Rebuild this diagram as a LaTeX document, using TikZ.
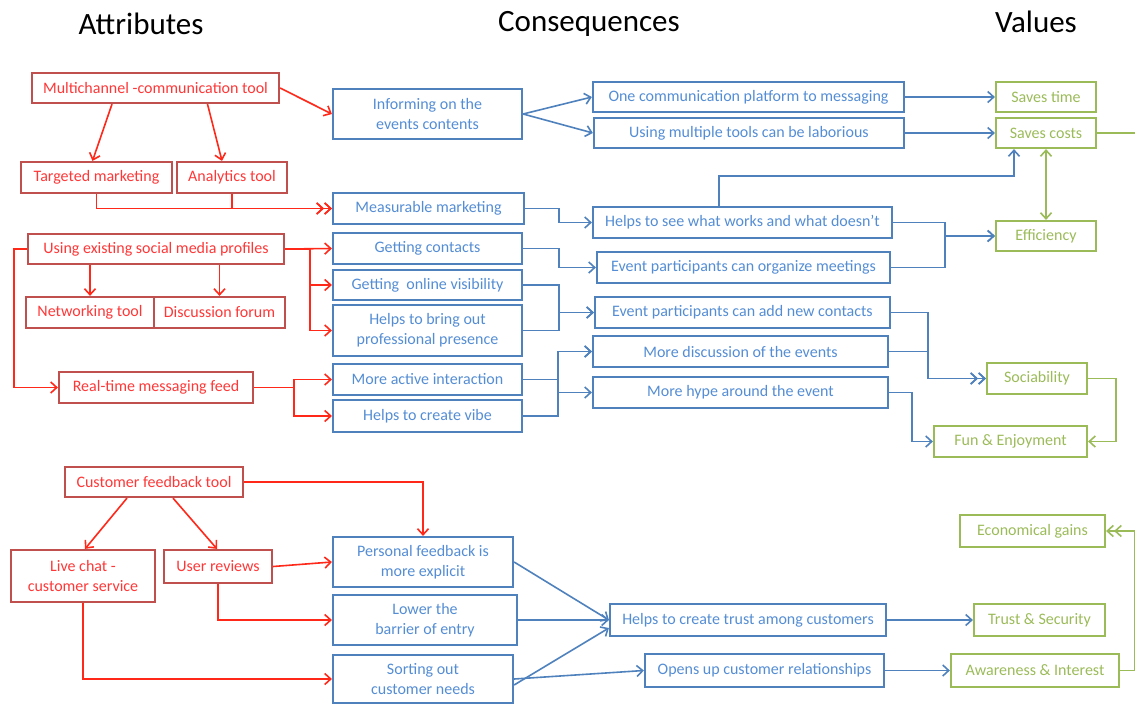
\documentclass[tikz,border=0pt]{standalone}
\usepackage{fontspec}
\setmainfont{Carlito}
\usepackage{xcolor}
\usetikzlibrary{arrows.meta,positioning}

\definecolor{attrbox}{RGB}{192,80,77}
\definecolor{attrtext}{RGB}{255,55,55}
\definecolor{attrline}{RGB}{255,40,25}
\definecolor{consbox}{RGB}{79,129,189}
\definecolor{constext}{RGB}{84,141,212}
\definecolor{valbox}{RGB}{155,187,89}

\begin{document}
\begin{tikzpicture}[x=1pt, y=-1pt, >={Straight Barb[length=6pt,width=11pt]},
		box/.style={draw, line width=2.2pt, inner sep=0pt, align=center, font=\fontsize{16}{20}\selectfont},
		wh/.style 2 args={minimum width=#1pt, minimum height=#2pt},
		attr/.style={box, draw=attrbox, text=attrtext},
		cons/.style={box, draw=consbox, text=constext},
		val/.style={box, draw=valbox, text=valbox},
		redway/.style={draw=attrline, line width=1.6pt},
		blueway/.style={draw=consbox, line width=1.6pt},
		greenway/.style={draw=valbox, line width=1.6pt},
		head/.style={font=\fontsize{31}{36}\selectfont}]
		\useasboundingbox (0,0) rectangle (1135,704);

		\node[head] (t1) at (141,24) {Attributes};
		\node[head] (t2) at (589,24) {Consequences};
		\node[head] (t3) at (1036,22) {Values};

		\node[attr, wh={247}{30}] (a1) at (155.5,88) {Multichannel -communication tool};
		\node[attr, wh={151}{31}] (a2) at (96.5,177.5) {Targeted marketing};
		\node[attr, wh={110}{31}] (a3) at (232,177.5) {Analytics tool};
		\node[attr, wh={256}{30}] (a4) at (156,249) {Using existing social media profiles};
		\node[attr, wh={128}{31}] (a5) at (90,312.5) {Networking tool};
		\node[attr, wh={131}{31}] (a6) at (219.5,312.5) {Discussion forum};
		\node[attr, wh={194}{31}] (a7) at (156,387.5) {Real-time messaging feed};
		\node[attr, wh={178}{30}] (a8) at (154,482) {Customer feedback tool};
		\node[attr, wh={144}{52}] (a9) at (83,576) {Live chat -\\customer service};
		\node[attr, wh={108}{33}] (a10) at (218,566.5) {User reviews};

		\node[cons, wh={189}{50}] (c1) at (427.5,114) {Informing on the\\events contents};
		\node[cons, wh={191}{31}] (c2) at (428.5,208.5) {Measurable marketing};
		\node[cons, wh={189}{31}] (c3) at (427.5,248.5) {Getting contacts};
		\node[cons, wh={189}{30}] (c4) at (427.5,285) {Getting\ \ online visibility};
		\node[cons, wh={189}{51}] (c5) at (427.5,330.5) {Helps to bring out\\professional presence};
		\node[cons, wh={189}{31}] (c6) at (427.5,379.5) {More active interaction};
		\node[cons, wh={189}{32}] (c7) at (427.5,416) {Helps to create vibe};
		\node[cons, wh={180}{50}] (c8) at (423,562) {Personal feedback is\\more explicit};
		\node[cons, wh={184}{50}] (c9) at (425,620) {Lower the\\barrier of entry};
		\node[cons, wh={180}{48}] (c10) at (423,679) {Sorting out\\customer needs};

		\node[cons, wh={311}{30}] (m1) at (748.5,97) {One communication platform to messaging};
		\node[cons, wh={310}{30}] (m2) at (749,133) {Using multiple tools can be laborious};
		\node[cons, wh={299}{31}] (m3) at (742.5,222.5) {Helps to see what works and what doesn’t};
		\node[cons, wh={293}{31}] (m4) at (743.5,267.5) {Event participants can organize meetings};
		\node[cons, wh={295}{31}] (m5) at (742.5,312.5) {Event participants can add new contacts};
		\node[cons, wh={295}{31}] (m6) at (740.5,351.5) {More discussion of the events};
		\node[cons, wh={295}{31}] (m7) at (740.5,392.5) {More hype around the event};
		\node[cons, wh={276}{32}] (m8) at (748,620) {Helps to create trust among customers};
		\node[cons, wh={239}{33}] (m9) at (764.5,670.5) {Opens up customer relationships};

		\node[val, wh={100}{30}] (v1) at (1046,97) {Saves time};
		\node[val, wh={100}{30}] (v2) at (1046,133) {Saves costs};
		\node[val, wh={100}{30}] (v3) at (1046,236) {Efficiency};
		\node[val, wh={100}{31}] (v4) at (1037,378.5) {Sociability};
		\node[val, wh={153}{31}] (v5) at (1010.5,441.5) {Fun \& Enjoyment};
		\node[val, wh={145}{32}] (v6) at (1032.5,531) {Economical gains};
		\node[val, wh={131}{32}] (v7) at (1039.5,620) {Trust \& Security};
		\node[val, wh={168}{33}] (v8) at (1035,670.5) {Awareness \& Interest};
		\coordinate (e1) at (1135,133);

		\draw[redway, ->] (a1.east) -- (c1.west);
		\draw[redway, ->] ([xshift=-43.5pt]a1.south) -- ([xshift=-4pt]a2.north);
		\draw[redway, ->] ([xshift=52pt]a1.south) -- ([xshift=-10pt]a3.north);
		\draw[redway, ->>] (a2.south) |- (c2.west);
		\draw[redway, ->>] (a3.south) |- (c2.west);
		\draw[redway, ->] (a4.east) -- (c3.west);
		\draw[redway, ->] (a4.east) -- ++(25,0) |- (c4.west);
		\draw[redway, ->] (a4.east) -- ++(25,0) |- (c5.west);
		\draw[redway, ->] (a4.west) -- ++(-13,0) |- (a7.west);
		\draw[redway, ->] (a4.south -| a5.north) -- (a5.north);
		\draw[redway, ->] (a4.south -| a6.north) -- (a6.north);
		\draw[redway, ->] (a7.east) -- ++(40,0) |- (c6.west);
		\draw[redway, ->] (a7.east) -- ++(40,0) |- (c7.west);

		\draw[redway, ->] (a8.east) -| (c8.north);
		\draw[redway, ->] ([xshift=-27pt]a8.south) -- ([xshift=2pt]a9.north);
		\draw[redway, ->] ([xshift=19pt]a8.south) -- ([xshift=-1pt]a10.north);
		\draw[redway, ->] (a10.east) -- (c8.west);
		\draw[redway, ->] (a10.south) |- (c9.west);
		\draw[redway, ->] (a9.south) |- (c10.west);

		\draw[blueway, ->] (c1.east) -- (m1.west);
		\draw[blueway, ->] (c1.east) -- (m2.west);
		\draw[blueway, ->] (m1.east) -- (v1.west);
		\draw[blueway, ->] (m2.east) -- (v2.west);
		\draw[blueway, ->] (c2.east) -- ++(34,0) |- (m3.west);
		\draw[blueway, ->] (c3.east) -- ++(36,0) |- (m4.west);
		\draw[blueway, ->] (c4.east) -- ++(36,0) |- (m5.west);
		\draw[blueway, ->] (c5.east) -- ++(36,0) |- (m5.west);
		\draw[blueway, ->] (c6.east) -- ++(35,0) |- (m6.west);
		\draw[blueway, ->] (c7.east) -- ++(35,0) |- (m6.west);
		\draw[blueway, ->] (c7.east) -- ++(35,0) |- (m7.west);
		\draw[blueway, ->] ([xshift=-23.5pt]m3.north) -- ++(0,-30) -| ([xshift=-32pt]v2.south);
		\draw[blueway, ->] (m3.east) -- ++(52,0) |- (v3.west);
		\draw[blueway, ->] (m4.east) -- ++(54,0) |- (v3.west);
		\draw[blueway, ->>] (m5.east) -- ++(37,0) |- (v4.west);
		\draw[blueway, ->>] (m6.east) -- ++(39,0) |- (v4.west);
		\draw[blueway, ->] (m7.east) -- ++(23,0) |- (v5.west);

		\draw[blueway, ->] (c8.east) -- (m8.west);
		\draw[blueway, ->] (c9.east) -- (m8.west);
		\draw[blueway, ->] ([yshift=-6pt]c10.east) -- ([yshift=-8pt]m8.west);
		\draw[blueway, ->] (c10.east) -- (m9.west);
		\draw[blueway, ->] (m8.east) -- (v7.west);
		\draw[blueway, ->] (m9.east) -- (v8.west);

		\draw[greenway, <->] (v2.south) -- (v3.north);
		\draw[greenway] (v2.east) -- (e1);
		\draw[greenway, ->] (v4.east) -- ++(28,0) |- (v5.east);
		\draw[greenway, ->>] (v8.east) -- ++(15,0) |- (v6.east);
	\end{tikzpicture}
\end{document}
